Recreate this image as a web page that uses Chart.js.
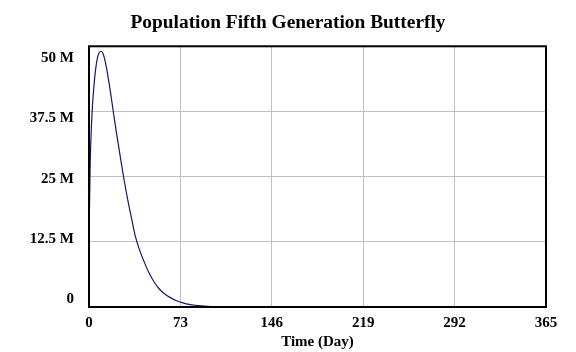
<!DOCTYPE html>
<html>
<head>
<meta charset="utf-8">
<script src="https://cdn.jsdelivr.net/npm/chart.js@4"></script>
<style>
  html, body { margin: 0; padding: 0; background: #fff; }
  #wrap { width: 576px; height: 352px; position: relative; }
</style>
</head>
<body>
<div id="wrap"><canvas id="c"></canvas></div>
<script>
// values (day, population)
const days = [0, 1, 2, 3, 4, 5, 6, 7, 8, 9, 10, 11, 12, 13, 14, 16, 18, 20, 22, 25, 28, 31, 34, 37, 40, 44, 48, 52, 56, 60, 65, 70, 75, 80, 85, 90, 95, 100, 110, 120, 150, 200, 365];
const population = [12.9e6, 28e6, 35e6, 39.5e6, 42.5e6, 45e6, 46.8e6, 48e6, 48.7e6, 49e6, 49e6, 48.7e6, 48e6, 47e6, 45.8e6,
  43e6, 39.8e6, 36.5e6, 33.3e6, 28.8e6, 24.4e6, 20.5e6, 17e6, 13.6e6, 11.2e6, 8.7e6, 6.5e6, 4.8e6, 3.5e6, 2.6e6,
  1.8e6, 1.2e6, 0.8e6, 0.5e6, 0.33e6, 0.22e6, 0.14e6, 0.09e6, 0.04e6, 0.015e6, 0.002e6, 0, 0];
const xTicks = [0, 73, 146, 219, 292, 365];
const yTicks = [0, 12.5e6, 25e6, 37.5e6, 50e6];
const yTickLabels = ['0', '12.5 M', '25 M', '37.5 M', '50 M'];

const FONT = '"Liberation Serif", "Times New Roman", serif';

// black frame round the plot area
const frame = {
  id: 'frame',
  afterDatasetsDraw(chart) {
    const a = chart.chartArea, ctx = chart.ctx;
    ctx.save();
    ctx.strokeStyle = '#000';
    ctx.lineWidth = 2;
    ctx.strokeRect(a.left, a.top, a.right - a.left, a.bottom - a.top);
    ctx.restore();
  }
};

new Chart(document.getElementById('c'), {
  type: 'line',
  data: {
    datasets: [{
      label: 'Population Fifth Generation Butterfly',
      data: days.map((d, i) => ({ x: d, y: population[i] })),
      borderColor: '#16166e',
      borderWidth: 1.2,
      pointRadius: 0,
      cubicInterpolationMode: 'monotone',
      yAxisID: 'y'
    }]
  },
  options: {
    responsive: true,
    maintainAspectRatio: false,
    animation: false,
    layout: { padding: { left: 30, right: 30, top: 0, bottom: 0 } },
    plugins: {
      legend: { display: false },
      tooltip: { enabled: false },
      title: {
        display: true,
        text: 'Population Fifth Generation Butterfly',
        color: '#000',
        font: { family: FONT, size: 19.4, weight: 'bold' },
        padding: { top: 11, bottom: 12 }
      }
    },
    scales: {
      x: {
        type: 'linear',
        min: 0, max: 365,
        afterBuildTicks: s => { s.ticks = xTicks.map(v => ({ value: v })); },
        afterFit: s => { s.height = 45; },
        ticks: { color: '#000', padding: 7, font: { family: FONT, size: 15, weight: 'bold' } },
        grid: { color: '#c0c0c0', drawTicks: false },
        border: { display: false },
        title: {
          display: true, text: 'Time (Day)', color: '#000',
          font: { family: FONT, size: 15, weight: 'bold' },
          padding: { top: 0, bottom: 1 }
        }
      },
      y: {
        type: 'linear',
        min: 0, max: 50e6,
        weight: 0,
        afterBuildTicks: s => { s.ticks = yTicks.map(v => ({ value: v })); },
        afterFit: s => { s.width = 0; },
        ticks: { display: false },
        grid: { color: '#c0c0c0', drawTicks: false },
        border: { display: false }
      },
      yl: {
        type: 'linear',
        position: 'left',
        min: -1.55e6, max: 52.45e6,
        weight: 1,
        afterBuildTicks: s => { s.ticks = yTicks.map(v => ({ value: v })); },
        afterFit: s => { s.width = 59; },
        ticks: {
          color: '#000', padding: 7,
          font: { family: FONT, size: 15, weight: 'bold' },
          callback: (v) => yTickLabels[yTicks.indexOf(v)]
        },
        grid: { display: false },
        border: { display: false }
      }
    }
  },
  plugins: [frame]
});
</script>
</body>
</html>
